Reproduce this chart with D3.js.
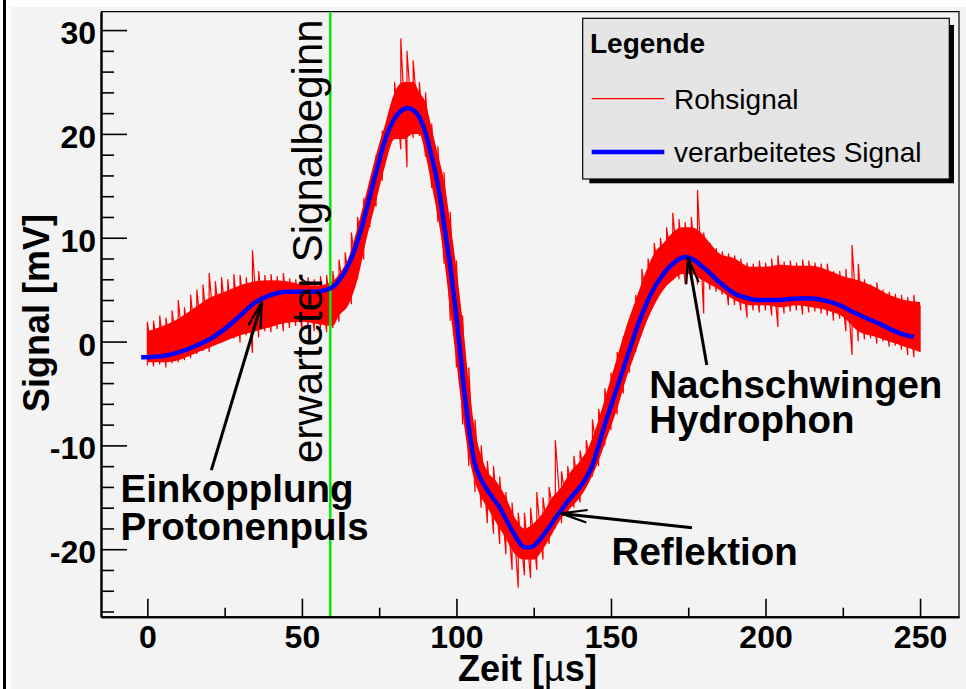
<!DOCTYPE html>
<html><head><meta charset="utf-8">
<script src="https://cdn.jsdelivr.net/npm/d3@7"></script>
<style>body{margin:0;background:#fff}svg{display:block}</style>
</head><body>
<script>
// ---- processed (smoothed) signal ----
const procTime  = [-2,0,5,10,15,20,25,30,35,40,45,50,55,58,60,62,64,66,68,70,72,74,76,78,80,82,84,86,88,90,92,94,96,98,100,102,104,106,108,110,114,118,120,122,124,126,128,130,132,134,136,138,140,142,144,146,148,150,152,154,156,158,160,162,164,166,168,170,172,174,176,178,180,182,184,186,188,190,194,198,204,210,215,220,224,228,233,237,241,245,248];
const procValue = [-1.5,-1.5,-1.4,-1.05,-0.5,0.2,1.2,2.5,3.8,4.5,4.8,4.8,4.8,5.0,5.25,5.9,6.8,8.0,9.7,11.7,14.0,16.3,18.5,20.3,21.5,22.2,22.5,22.3,21.6,20.1,17.8,15.1,11.3,7.2,2.4,-3.3,-8.3,-11.8,-13.3,-14.3,-16.0,-18.2,-19.2,-19.8,-19.8,-19.4,-18.7,-17.9,-17.0,-16.2,-15.4,-14.7,-14.0,-13.1,-11.9,-10.0,-8.0,-6.2,-4.4,-2.6,-0.8,1.0,2.6,4.0,5.2,6.1,6.9,7.5,7.95,8.15,8.0,7.6,7.1,6.6,6.0,5.5,5.0,4.6,4.2,4.0,4.0,4.15,4.15,3.9,3.5,2.9,2.2,1.7,1.1,0.65,0.45];

// ---- raw signal: dense core band ----
const coreTime = [0,5,10,15,20,25,30,35,40,45,50,55,60,62,65,68,71,74,77,80,83,86,88,90,92,94,96,98,100,102,104,106,108,110,113,116,119,122,125,128,131,134,137,140,143,146,149,152,155,158,161,164,167,170,173,176,179,182,185,190,195,200,205,210,215,220,225,230,235,240,245,250];
const coreLo = [-2.0,-2.0,-1.8,-1.2,-0.6,0.0,0.6,1.0,1.4,1.8,1.9,1.7,1.5,2.5,3.5,6.0,10.0,13.5,17.0,19.5,19.5,20.0,20.0,18.0,15.0,12.0,8.0,3.0,-2.0,-7.0,-11.0,-13.5,-15.0,-16.0,-17.5,-19.0,-20.5,-21.0,-21.0,-20.0,-18.5,-17.0,-16.0,-15.0,-13.5,-11.5,-9.0,-6.5,-3.5,-1.0,1.5,3.5,5.0,5.9,6.5,6.5,6.0,5.5,5.0,4.0,3.5,3.5,3.3,3.5,3.3,3.0,2.4,1.0,0.5,0.0,-0.5,-1.0];
const coreHi = [1.0,1.5,2.2,3.2,4.2,4.8,5.4,5.8,5.9,5.8,5.5,5.4,5.8,6.5,8.0,11.0,14.5,18.0,21.0,24.0,25.0,25.0,24.0,23.0,20.5,18.0,15.5,11.5,7.0,2.0,-4.0,-8.5,-11.0,-12.5,-13.5,-15.0,-17.0,-18.0,-17.5,-16.5,-15.0,-14.0,-12.5,-11.5,-10.0,-7.5,-4.5,-1.5,1.5,4.0,6.5,8.5,9.5,10.5,11.0,11.0,10.5,9.5,8.5,8.0,7.2,7.2,7.4,7.3,7.3,6.9,6.3,5.9,5.3,4.5,4.0,3.8];

// ---- raw signal: extremes every 2 µs ----
const rawTime = d3.range(0, 251, 2);
const rawLo = [-2.3,-2.4,-2.2,-2.5,-2.1,-2.0,-1.8,-1.6,-1.2,-0.9,-1.0,-0.3,0.2,0.5,0.3,-0.1,0.6,-1.1,0.4,1.0,0.9,1.2,1.0,1.3,1.5,1.2,1.4,1.0,1.3,0.9,1.3,1.9,3.5,3.6,6.0,7.9,11.0,13.0,15.5,18.4,19.5,18.5,16.8,19.6,19.8,17.8,14.8,11.5,7.5,2.0,-2.5,-8.0,-12.0,-14.5,-16.0,-17.5,-18.5,-19.5,-20.5,-22.0,-23.7,-22.5,-22.8,-22.0,-21.0,-19.5,-18.0,-17.5,-16.5,-16.0,-15.5,-14.0,-13.0,-12.0,-10.0,-8.5,-7.0,-5.0,-3.0,-1.0,1.0,2.5,4.0,5.0,5.5,5.9,6.0,5.5,6.0,5.5,2.7,5.0,4.8,4.5,3.5,3.5,3.0,2.3,3.0,2.8,3.0,2.5,1.4,2.7,2.9,3.0,2.6,2.8,2.9,2.7,2.5,2.0,2.2,1.0,-1.3,0.0,0.2,0.3,-0.2,0.0,-0.5,-0.4,-0.8,-1.3,-1.5,-1.0];
const rawHi = [1.9,2.0,2.5,2.3,3.0,4.0,3.3,4.5,5.0,5.5,6.6,5.8,6.2,6.0,6.5,6.4,6.2,8.8,6.8,6.4,6.5,6.3,6.6,6.1,6.0,6.0,6.2,6.0,6.3,6.4,6.8,7.9,8.6,10.5,12.0,13.8,15.5,18.0,20.3,21.8,25.0,29.2,28.0,27.1,25.0,24.0,21.0,18.8,16.3,12.5,7.8,2.5,-2.5,-7.5,-10.0,-11.5,-12.0,-13.0,-14.5,-15.5,-16.5,-16.5,-16.0,-14.5,-15.0,-14.0,-9.5,-12.5,-12.0,-11.0,-10.5,-9.5,-7.5,-6.5,-4.5,-3.0,-1.0,0.5,2.0,4.5,7.0,8.0,9.5,10.0,11.0,12.4,11.8,11.5,12.0,14.6,10.5,9.5,9.0,8.7,8.5,8.3,8.0,7.6,7.5,7.8,7.6,8.0,8.3,7.7,7.8,7.6,7.9,7.8,7.6,7.5,7.5,6.8,6.8,7.0,9.3,7.5,6.0,5.5,5.7,5.0,4.8,4.6,4.5,4.3,4.5,3.5];

// ---- axes / annotations ----
const xMajor = [0,50,100,150,200,250];
const xMinor = [25,75,125,175,225];
const yMajor = [-20,-10,0,10,20,30];
const yMinor = [-26,-24,-22,-18,-16,-14,-12,-8,-6,-4,-2,2,4,6,8,12,14,16,18,22,24,26,28];
const signalStart = 59.2;
const legendItems = ["Rohsignal","verarbeitetes Signal"];
const annotations = [
  {lines:["Einkopplung","Protonenpuls"], tx:-8.7, ty:-15.5, gap:38, from:[20.7,-12.38], to:[37.1,3.83]},
  {lines:["Reflektion"], tx:150.2, ty:-21.5, gap:0, from:[176.2,-17.94], to:[133.8,-16.55]},
  {lines:["Nachschwingen","Hydrophon"], tx:162.4, ty:-5.45, gap:35, from:[181.0,-2.26], to:[174.9,8.11]}
];

const W = 966, H = 689;
const FONT = "'Liberation Sans', Arial, Helvetica, sans-serif";
const svg = d3.select("body").append("svg").attr("width", W).attr("height", H)
  .style("font-family", FONT);

svg.append("rect").attr("width", W).attr("height", H).attr("fill", "#fff");
svg.append("rect").attr("x", 11).attr("y", 7).attr("width", W - 11).attr("height", H - 7).attr("fill", "#f3f3f3");
svg.append("rect").attr("x", 3).attr("y", 0).attr("width", 3).attr("height", H).attr("fill", "#000");

const x = d3.scaleLinear().domain([-15, 262.6]).range([101, 959]);
const y = d3.scaleLinear().domain([-26.5, 31.77]).range([616.7, 11.7]);

// frame top/right
svg.append("path").attr("d", `M${x.range()[0]},${y.range()[1]}H${x.range()[1]}V${y.range()[0]}`)
  .attr("fill", "none").attr("stroke", "#000").attr("stroke-width", 1.2);

// raw signal
const core = coreTime.map((t, i) => ({t, lo: coreLo[i], hi: coreHi[i]}));
svg.append("path").datum(core)
  .attr("d", d3.area().x(d => x(d.t)).y0(d => y(d.lo)).y1(d => y(d.hi)).curve(d3.curveMonotoneX))
  .attr("fill", "#ff0000");
const zig = [];
rawTime.forEach((t, i) => { zig.push([t, rawLo[i]]); zig.push([t, rawHi[i]]); });
svg.append("path").datum(zig)
  .attr("d", d3.line().x(d => x(d[0])).y(d => y(d[1])))
  .attr("fill", "none").attr("stroke", "#ff0000").attr("stroke-width", 1.2);

// expected signal start
svg.append("line").attr("x1", x(signalStart)).attr("x2", x(signalStart))
  .attr("y1", y(31.77)).attr("y2", y(-26.5))
  .attr("stroke", "#00ee00").attr("stroke-width", 2.5);

// processed signal
const proc = procTime.map((t, i) => [t, procValue[i]]);
svg.append("path").datum(proc)
  .attr("d", d3.line().x(d => x(d[0])).y(d => y(d[1])).curve(d3.curveMonotoneX))
  .attr("fill", "none").attr("stroke", "#0000ff").attr("stroke-width", 4.5);

// axes
const tickFont = 32;
const fmt = d => String(d);
const gy = svg.append("g").attr("transform", `translate(${x.range()[0]},0)`);
gy.call(d3.axisLeft(y).tickValues(yMajor).tickFormat(fmt).tickSizeInner(-26).tickSizeOuter(0).tickPadding(5));
gy.append("g").call(d3.axisLeft(y).tickValues(yMinor).tickSizeInner(-13).tickSizeOuter(0).tickFormat(""));
gy.selectAll(".domain").attr("stroke-width", 2);
gy.selectAll(".tick line").attr("stroke-width", 1.6);
gy.selectAll(".tick text").attr("font-size", tickFont).attr("font-weight", "bold")
  .attr("font-family", FONT).attr("dy", "0.42em").attr("fill", "#000");

const gx = svg.append("g").attr("transform", `translate(0,${y.range()[0]})`);
gx.call(d3.axisBottom(x).tickValues(xMajor).tickFormat(fmt).tickSizeInner(-18).tickSizeOuter(0).tickPadding(9));
gx.append("g").call(d3.axisBottom(x).tickValues(xMinor).tickSizeInner(-9).tickSizeOuter(0).tickFormat(""));
gx.selectAll(".domain").attr("stroke-width", 2);
gx.selectAll(".tick line").attr("stroke-width", 1.6);
gx.selectAll(".tick text").attr("font-size", tickFont).attr("font-weight", "bold")
  .attr("font-family", FONT).attr("fill", "#000");

// axis titles
const xt = svg.append("text").attr("x", 527.5).attr("y", 681).attr("text-anchor", "middle")
  .attr("font-size", 36).attr("font-weight", "bold");
xt.append("tspan").text("Zeit [");
xt.append("tspan").attr("font-weight", "normal").text("µ");
xt.append("tspan").text("s]");
svg.append("text").attr("transform", "translate(49,313) rotate(-90)").attr("text-anchor", "middle")
  .attr("font-size", 36).attr("font-weight", "bold").text("Signal [mV]");

// rotated annotation
svg.append("text").attr("transform", "translate(322,463) rotate(-90)")
  .attr("font-size", 42).text("erwarteter Signalbeginn");

// annotations with arrows
function arrow(from, to) {
  const x1 = x(from[0]), y1 = y(from[1]), x2 = x(to[0]), y2 = y(to[1]);
  svg.append("line").attr("x1", x1).attr("y1", y1).attr("x2", x2).attr("y2", y2)
    .attr("stroke", "#000").attr("stroke-width", 3);
  const a = Math.atan2(y1 - y2, x1 - x2), L = 27, h = 13.5 * Math.PI / 180;
  const p = d3.path();
  p.moveTo(x2 + L * Math.cos(a - h), y2 + L * Math.sin(a - h));
  p.lineTo(x2, y2);
  p.lineTo(x2 + L * Math.cos(a + h), y2 + L * Math.sin(a + h));
  svg.append("path").attr("d", p.toString()).attr("fill", "none").attr("stroke", "#000").attr("stroke-width", 2.2);
}
annotations.forEach(a => {
  arrow(a.from, a.to);
  const t = svg.append("text").attr("font-size", 38.5).attr("font-weight", "bold");
  a.lines.forEach((s, i) => t.append("tspan").attr("x", x(a.tx)).attr("y", y(a.ty) + i * a.gap).text(s));
});

// legend
svg.append("rect").attr("x", 589.3).attr("y", 25).attr("width", 954 - 589.3).attr("height", 183.3 - 25).attr("fill", "#000");
svg.append("rect").attr("x", 582.7).attr("y", 18.3).attr("width", 949.3 - 582.7).attr("height", 179 - 18.3)
  .attr("fill", "#e5e5e5").attr("stroke", "#000").attr("stroke-width", 1.2);
svg.append("text").attr("x", 590).attr("y", 53).attr("font-size", 28).attr("font-weight", "bold").text("Legende");
const legColors = ["#ff0000", "#0000ff"], legWidths = [1.2, 4.5], legLineY = [98.7, 152], legTextY = [109, 162];
legendItems.forEach((s, i) => {
  svg.append("line").attr("x1", 591.7).attr("x2", 664.3).attr("y1", legLineY[i]).attr("y2", legLineY[i])
    .attr("stroke", legColors[i]).attr("stroke-width", legWidths[i]);
  svg.append("text").attr("x", 674).attr("y", legTextY[i]).attr("font-size", 28).text(s);
});
</script>
</body></html>
